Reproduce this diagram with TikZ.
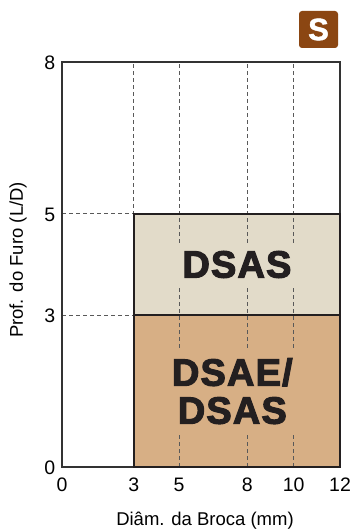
\documentclass[tikz,border=0pt]{standalone}
\usepackage{fontspec}
\setmainfont{Liberation Sans}
\newfontfamily\heavyfont[FakeBold=3, LetterSpace=3]{Liberation Sans Bold}
\newfontfamily\badgefont[FakeBold=1.5]{Liberation Sans Bold}
\definecolor{boxlight}{RGB}{226,219,201}
\definecolor{boxtan}{RGB}{215,175,133}
\definecolor{badgebrown}{RGB}{139,70,18}
\definecolor{inkdark}{RGB}{35,31,32}
\tikzset{
  frameline/.style={draw=black!80, line width=1.2pt},
  guideline/.style={draw=black!65, line width=0.8pt, dash pattern=on 4pt off 3pt},
  zoneedge/.style={draw=inkdark, line width=1.8pt},
  ticklabel/.style={inner sep=0pt, font=\fontsize{19.5}{20}\selectfont},
  axistitle/.style={inner sep=0pt, font=\fontsize{18.5}{20}\selectfont},
  zonelabel/.style={inner sep=8pt, text=inkdark, align=center,
    font=\fontsize{38}{38}\selectfont\heavyfont},
}
\begin{document}
\begin{tikzpicture}[x=23.17pt, y=50.625pt]
    \useasboundingbox (-62pt,-62pt) rectangle (290pt,467pt);

    % Zones
    \fill[boxtan] (3.1,0) rectangle (12,3);
    \fill[boxlight] (3.1,3) rectangle (12,5);

    % Guides
    \foreach \gx in {3.1,5.05,8,10}
        \draw[guideline] (\gx,0) -- (\gx,8);
    \foreach \gy in {3,5}
        \draw[guideline] (0,\gy) -- (3.1,\gy);

    % Frame
    \draw[frameline] (0,0) rectangle (12,8);

    % Zone outlines
    \draw[zoneedge] (3.1,0) rectangle (12,3);
    \draw[zoneedge] (3.1,3) rectangle (12,5);

    % Zone labels
    \node[zonelabel, fill=boxlight] (dsas) at (7.55,4) {DSAS};
    \node[zonelabel, fill=boxtan] (dsae) at (7.35,1.5) {DSAE/\\DSAS};

    % Ticks
    \foreach \tx/\tl in {0/0,3.1/3,5.05/5,8/8,10/10,12/12}
        \node[ticklabel, anchor=base] (tx\tl) at (\tx,-25pt) {\tl};
    \foreach \ty in {0,3,5,8}
        \node[ticklabel, anchor=base east] (ty\ty) at ([yshift=-7.5pt]-6.5pt,\ty) {\ty};

    % Axis titles
    \node[axistitle, anchor=base] (xtitle) at (143pt,-58pt) {Diâm. da Broca (mm)};
    \node[axistitle, rotate=90] (ytitle) at (-44pt,207pt) {Prof. do Furo (L/D)};

    % Badge
    \node[fill=badgebrown, rounded corners=3pt, minimum width=39pt, minimum height=37pt,
      inner sep=0pt, text=white, font=\fontsize{31}{31}\selectfont\badgefont]
      (badge) at (256.5pt,437.5pt) {S};
\end{tikzpicture}
\end{document}
